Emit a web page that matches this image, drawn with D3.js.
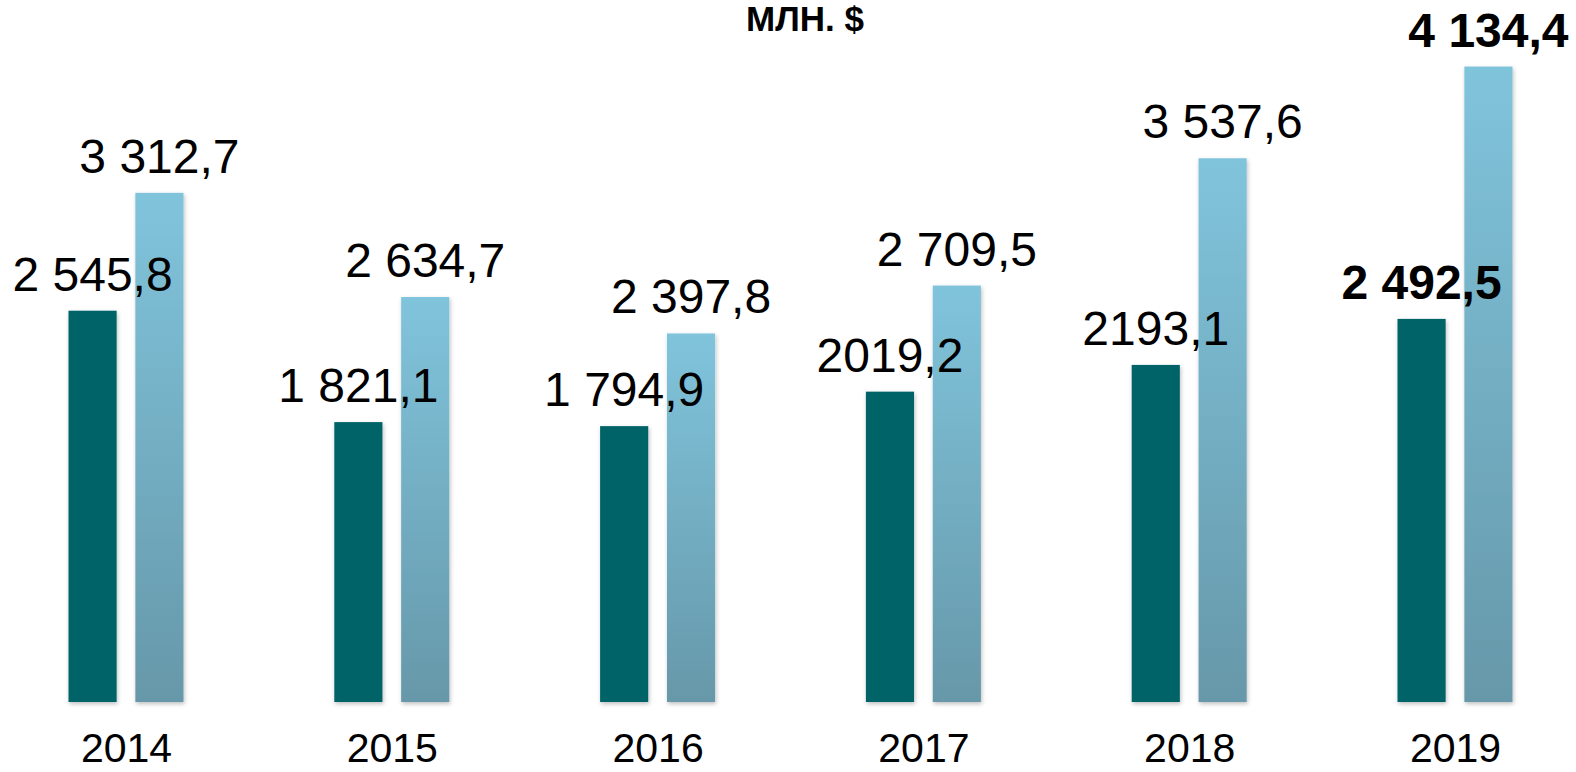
<!DOCTYPE html>
<html>
<head>
<meta charset="utf-8">
<script src="https://cdn.jsdelivr.net/npm/d3@7"></script>
<style>
  html, body { margin: 0; padding: 0; background: #fff; }
  svg { display: block; font-family: "Liberation Sans", Arial, sans-serif; }
</style>
</head>
<body>
<div id="chart"></div>
<script>
// Two series per year, values in млн. $

const years = ["2014", "2015", "2016", "2017", "2018", "2019"];
const seriesA = [2545.8, 1821.1, 1794.9, 2019.2, 2193.1, 2492.5];
const seriesB = [3312.7, 2634.7, 2397.8, 2709.5, 3537.6, 4134.4];
const labelsA = ["2 545,8", "1 821,1", "1 794,9", "2019,2", "2193,1", "2 492,5"];
const labelsB = ["3 312,7", "2 634,7", "2 397,8", "2 709,5", "3 537,6", "4 134,4"];
const boldYear = "2019";

const width = 1576, height = 772;
const svg = d3.select("#chart").append("svg")
  .attr("width", width).attr("height", height);

const defs = svg.append("defs");
const grad = defs.append("linearGradient").attr("id", "gB")
  .attr("x1", "0%").attr("x2", "0%").attr("y1", "0%").attr("y2", "100%");
grad.append("stop").attr("offset", "0%").attr("stop-color", "#80c4dc");
grad.append("stop").attr("offset", "100%").attr("stop-color", "#6698a9");
const shadow = defs.append("filter").attr("id", "sh")
  .attr("x", "-30%").attr("y", "-10%").attr("width", "160%").attr("height", "120%");
shadow.append("feDropShadow").attr("dx", 1).attr("dy", 2)
  .attr("stdDeviation", 2).attr("flood-color", "#000").attr("flood-opacity", 0.25);

const x = d3.scalePoint().domain(years).range([126, 1455]);
const sub = d3.scaleBand().domain(["a", "b"]).range([-57.5, 57.5]).paddingInner(0.28);
const y = d3.scaleLinear().domain([0, 4500]).range([702, 702 - 4500 * 0.1537]);

const rows = years.map((yr, i) => ({ yr, a: seriesA[i], b: seriesB[i], la: labelsA[i], lb: labelsB[i] }));

const g = svg.append("g");
const groups = g.selectAll("g.yr").data(rows).join("g")
  .attr("class", "yr")
  .attr("transform", d => `translate(${x(d.yr)},0)`);

groups.append("rect")
  .attr("x", sub("a")).attr("width", sub.bandwidth())
  .attr("y", d => y(d.a)).attr("height", d => y(0) - y(d.a))
  .attr("fill", "#016468").attr("filter", "url(#sh)");

groups.append("rect")
  .attr("x", sub("b")).attr("width", sub.bandwidth())
  .attr("y", d => y(d.b)).attr("height", d => y(0) - y(d.b))
  .attr("fill", "url(#gB)").attr("filter", "url(#sh)");

// value labels
groups.append("text")
  .attr("x", sub("a") + sub.bandwidth() / 2)
  .attr("y", d => y(d.a) - 20)
  .attr("text-anchor", "middle")
  .attr("font-size", 48)
  .attr("font-weight", d => d.yr === boldYear ? "bold" : "normal")
  .text(d => d.la);

groups.append("text")
  .attr("x", sub("b") + sub.bandwidth() / 2)
  .attr("y", d => y(d.b) - 20)
  .attr("text-anchor", "middle")
  .attr("font-size", 48)
  .attr("font-weight", d => d.yr === boldYear ? "bold" : "normal")
  .text(d => d.lb);

// category axis
const gx = svg.append("g").attr("transform", `translate(0,${y(0)})`)
  .call(d3.axisBottom(x).tickSize(0).tickPadding(31));
gx.select(".domain").remove();
gx.selectAll("text").attr("font-size", 41).attr("font-family", "Liberation Sans, Arial, sans-serif").attr("fill", "#000");

// unit title
svg.append("text")
  .attr("x", 805).attr("y", 31)
  .attr("text-anchor", "middle")
  .attr("font-size", 35).attr("font-weight", "bold")
  .text("МЛН. $");
</script>
</body>
</html>
